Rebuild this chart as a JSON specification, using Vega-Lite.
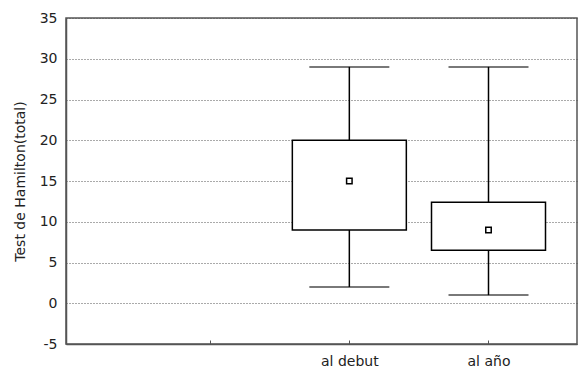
{
  "$schema": "https://vega.github.io/schema/vega-lite/v6.json",
  "width": 511,
  "height": 326,
  "autosize": "none",
  "padding": {"left": 66, "top": 18, "right": 5, "bottom": 34},
  "background": "white",
  "config": {
    "view": {"stroke": "#555555", "strokeWidth": 1.5},
    "font": "DejaVu Sans"
  },
  "data": {
    "values": [
      {"pos": 1, "grupo": "al debut", "min": 2, "q1": 9, "mid": 15, "q3": 20, "max": 29},
      {"pos": 2, "grupo": "al año", "min": 1, "q1": 6.5, "mid": 9, "q3": 12.4, "max": 29}
    ]
  },
  "encoding": {
    "x": {
      "field": "pos",
      "type": "quantitative",
      "scale": {"domain": [-1, 2.6], "nice": false, "zero": false},
      "axis": {
        "title": null,
        "values": [0, 1, 2],
        "labelExpr": "datum.value == 1 ? 'al debut' : datum.value == 2 ? 'al año' : ''",
        "grid": false,
        "domainColor": "#555555",
        "domainWidth": 1.5,
        "tickColor": "#555555",
        "tickSize": -4,
        "labelPadding": 14,
        "labelFont": "DejaVu Sans",
        "labelFontSize": 14,
        "labelColor": "#222222"
      }
    }
  },
  "layer": [
    {
      "mark": {"type": "rule", "color": "black", "strokeWidth": 1.5},
      "encoding": {
        "y": {
          "field": "min",
          "type": "quantitative",
          "scale": {"domain": [-5, 35], "nice": false, "zero": false},
          "axis": {
            "title": "Test de Hamilton(total)",
            "values": [-5, 0, 5, 10, 15, 20, 25, 30, 35],
            "labelExpr": "replace(datum.label, '\u2212', '-')",
            "grid": true,
            "gridColor": "#555555",
            "gridDash": [1, 2],
            "gridWidth": 1,
            "domainColor": "#555555",
            "domainWidth": 1.5,
            "tickColor": "#555555",
            "tickSize": 0,
            "labelPadding": 9,
            "labelFont": "DejaVu Sans",
            "labelFontSize": 14,
            "labelColor": "#222222",
            "titleFont": "DejaVu Sans",
            "titleFontSize": 14,
            "titleFontWeight": "normal",
            "titleColor": "#222222",
            "titleX": -46,
            "titleBaseline": "middle"
          }
        },
        "y2": {"field": "max"}
      }
    },
    {
      "mark": {"type": "bar", "size": 114, "fill": "white", "stroke": "black", "strokeWidth": 1.5},
      "encoding": {
        "y": {"field": "q1", "type": "quantitative"},
        "y2": {"field": "q3"}
      }
    },
    {
      "mark": {"type": "tick", "orient": "horizontal", "size": 80, "thickness": 1.5, "color": "black"},
      "encoding": {"y": {"field": "min", "type": "quantitative"}}
    },
    {
      "mark": {"type": "tick", "orient": "horizontal", "size": 80, "thickness": 1.5, "color": "black"},
      "encoding": {"y": {"field": "max", "type": "quantitative"}}
    },
    {
      "mark": {"type": "point", "shape": "square", "size": 30, "filled": false, "stroke": "black", "strokeWidth": 1.5, "fill": "white", "opacity": 1},
      "encoding": {"y": {"field": "mid", "type": "quantitative"}}
    }
  ]
}
